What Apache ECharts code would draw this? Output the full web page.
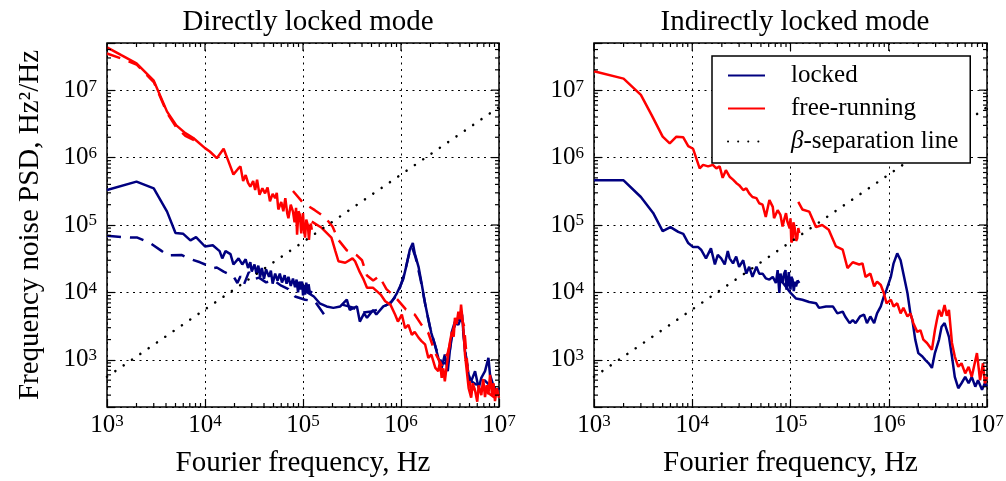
<!DOCTYPE html>
<html>
<head>
<meta charset="utf-8">
<script src="https://cdn.jsdelivr.net/npm/echarts@6/dist/echarts.min.js"></script>
<style>
html, body { margin: 0; padding: 0; background: #fff; }
#main { width: 1006px; height: 481px; }
</style>
</head>
<body>
<div id="main"></div>
<script>
// ---- data: [frequency Hz, PSD Hz^2/Hz] ----

// left panel: directly locked mode
var dirLockedA = [
  [1000, 3.3e5], [2000, 4.4e5], [3000, 3.5e5], [4100, 1.58e5], [5000, 7.6e4], [6000, 7.4e4],
  [7100, 5.9e4], [8100, 6.6e4], [1e4, 4.8e4], [1.2e4, 5.0e4], [1.41e4, 4.1e4], [1.5e4, 3.2e4],
  [1.62e4, 4.1e4], [1.82e4, 3.7e4], [1.95e4, 2.6e4], [2.2e4, 3.2e4], [2.4e4, 2.6e4], [2.6e4, 3.1e4],
  [2.75e4, 2.3e4], [2.9e4, 2.8e4], [3.0e4, 2.04e4], [3.2e4, 2.6e4], [3.35e4, 1.9e4], [3.5e4, 2.5e4],
  [3.65e4, 1.7e4], [3.8e4, 2.3e4], [4.0e4, 1.6e4], [4.2e4, 2.2e4], [4.5e4, 1.7e4], [4.7e4, 2.1e4],
  [4.9e4, 1.35e4], [5.2e4, 1.9e4], [5.5e4, 1.5e4], [5.8e4, 1.9e4], [6.1e4, 1.4e4], [6.5e4, 1.8e4],
  [6.8e4, 1.35e4], [7.1e4, 1.7e4], [7.5e4, 1.25e4], [7.9e4, 1.6e4], [8.3e4, 1.2e4], [8.6e4, 1.55e4],
  [8.9e4, 1.0e4], [9.2e4, 1.45e4], [9.5e4, 1.1e4], [9.8e4, 1.45e4], [1.0e5, 9.0e3], [1.03e5, 1.3e4],
  [1.05e5, 9.3e3], [1.08e5, 1.4e4], [1.11e5, 1.0e4], [1.14e5, 1.32e4], [1.18e5, 9.5e3], [1.23e5, 1.05e4]
];
var dirLockedB = [
  [1.0e5, 1.1e4], [1.29e5, 8.7e3], [1.48e5, 6.9e3], [1.74e5, 6.2e3], [2.04e5, 5.9e3], [2.4e5, 6.2e3],
  [2.8e5, 7.8e3], [3.0e5, 5.5e3], [3.55e5, 6.2e3], [3.8e5, 3.7e3], [4.2e5, 4.9e3], [4.5e5, 4.2e3],
  [5.2e5, 5.5e3], [5.6e5, 4.7e3], [6.6e5, 6.2e3], [7.8e5, 6.9e3], [8.3e5, 7.8e3], [9.1e5, 9.8e3],
  [9.8e5, 1.23e4], [1.05e6, 1.55e4], [1.15e6, 2.7e4], [1.23e6, 4.3e4], [1.32e6, 5.4e4], [1.38e6, 3.8e4],
  [1.51e6, 2.4e4], [1.62e6, 1.38e4], [1.76e6, 6.9e3], [1.9e6, 4.0e3], [2.04e6, 2.5e3], [2.24e6, 1.58e3],
  [2.4e6, 1.07e3], [2.6e6, 760], [2.8e6, 1.2e3], [3.0e6, 680], [3.3e6, 2.6e3], [3.55e6, 3.7e3],
  [3.85e6, 3.3e3], [4.2e6, 4.7e3], [4.3e6, 2.95e3], [4.5e6, 1.35e3], [4.9e6, 600], [5.2e6, 480],
  [5.7e6, 680], [6.2e6, 380], [6.6e6, 540], [7.2e6, 680], [7.8e6, 1.07e3], [8.1e6, 600],
  [8.7e6, 430], [9.3e6, 350], [1e7, 380]
];
var dirLockedDashA = [
  [1000, 6.9e4], [1410, 6.6e4], [2040, 6.5e4], [2750, 5.4e4], [3630, 4.1e4], [4100, 3.55e4],
  [5750, 3.6e4], [6800, 3.2e4], [8900, 2.8e4], [1.23e4, 2.3e4], [1.32e4, 2.34e4], [1.55e4, 2.04e4],
  [1.95e4, 1.74e4], [2.14e4, 1.38e4], [2.3e4, 1.74e4], [2.5e4, 1.32e4], [2.8e4, 2.0e4], [3.2e4, 1.58e4],
  [3.55e4, 1.66e4], [4.2e4, 1.41e4], [5.0e4, 1.51e4], [6.0e4, 1.26e4], [7.1e4, 1.12e4], [8.3e4, 8.7e3],
  [1.05e5, 7.8e3], [1.32e5, 7.4e3], [1.68e5, 4.5e3]
];
var dirLockedDashB = [
  [2.5e5, 6.6e3], [3.2e5, 6.0e3], [4.0e5, 5.0e3], [5.0e5, 5.2e3], [6.3e5, 5.8e3], [7.9e5, 7.2e3],
  [9.3e5, 9.5e3], [1.07e6, 1.78e4], [1.2e6, 3.55e4], [1.29e6, 4.8e4], [1.41e6, 3.3e4], [1.58e6, 1.58e4],
  [1.78e6, 6.3e3], [2.0e6, 2.8e3], [2.3e6, 1.41e3], [2.6e6, 890], [3.0e6, 890], [3.4e6, 2.8e3],
  [3.8e6, 4.0e3], [4.2e6, 3.8e3], [4.6e6, 1.12e3], [5.0e6, 500], [6.0e6, 420], [7.1e6, 500],
  [8.3e6, 400], [1e7, 355]
];
var dirFreeA = [
  [1000, 4.3e7], [1400, 3.3e7], [2000, 2.5e7], [3000, 1.38e7], [4100, 4.8e6], [5100, 3.0e6],
  [6300, 2.3e6], [7600, 1.95e6], [1e4, 1.38e6], [1.12e4, 1.23e6], [1.32e4, 9.8e5], [1.55e4, 1.35e6],
  [1.74e4, 8.7e5], [1.95e4, 5.6e5], [2.19e4, 6.9e5], [2.3e4, 7.4e5], [2.45e4, 4.5e5], [2.6e4, 5.5e5],
  [2.75e4, 4.2e5], [2.9e4, 3.7e5], [3.1e4, 4.5e5], [3.25e4, 3.3e5], [3.4e4, 4.7e5], [3.6e4, 2.8e5],
  [3.85e4, 3.5e5], [4.1e4, 2.95e5], [4.35e4, 3.6e5], [4.6e4, 2.24e5], [4.9e4, 2.9e5], [5.2e4, 2.5e5],
  [5.4e4, 3.0e5], [5.6e4, 1.7e5], [6.0e4, 2.2e5], [6.3e4, 1.6e5], [6.6e4, 2.5e5], [6.9e4, 1.5e5],
  [7.1e4, 1.26e5], [7.5e4, 2.0e5], [7.9e4, 1.58e5], [8.2e4, 1.1e5], [8.5e4, 1.8e5], [8.7e4, 7.2e4],
  [9.0e4, 1.6e5], [9.3e4, 1.41e5], [9.6e4, 7.5e4], [1.0e5, 1.5e5], [1.02e5, 8.9e4], [1.05e5, 6.5e4],
  [1.08e5, 1.2e5], [1.12e5, 1.0e5], [1.15e5, 6.0e4], [1.17e5, 8.1e4], [1.2e5, 1.05e5], [1.23e5, 8.5e4]
];
var dirFreeB = [
  [1.23e5, 1.12e5], [1.55e5, 9.1e4], [1.95e5, 6.5e4], [2.14e5, 4.1e4], [2.3e5, 2.9e4], [2.7e5, 2.75e4],
  [3.2e5, 3.2e4], [3.4e5, 2.9e4], [3.8e5, 2.0e4], [4.1e5, 1.62e4], [4.5e5, 1.17e4], [5.2e5, 1.17e4],
  [5.4e5, 1.23e4], [6.2e5, 9.3e3], [6.9e5, 7.4e3], [7.8e5, 6.6e3], [8.7e5, 4.7e3], [9.3e5, 3.7e3],
  [1.02e6, 4.7e3], [1.1e6, 2.95e3], [1.19e6, 3.3e3], [1.29e6, 2.34e3], [1.38e6, 2.6e3], [1.51e6, 2.14e3],
  [1.62e6, 1.9e3], [1.76e6, 1.7e3], [1.9e6, 1.07e3], [2.04e6, 1.2e3], [2.24e6, 760], [2.4e6, 680],
  [2.5e6, 950], [2.6e6, 540], [2.7e6, 750], [2.8e6, 480], [3.0e6, 1.07e3], [3.15e6, 1.8e3],
  [3.3e6, 2.6e3], [3.45e6, 2.2e3], [3.55e6, 4.2e3], [3.7e6, 3.4e3], [3.85e6, 5.2e3], [4.0e6, 4.0e3],
  [4.1e6, 6.6e3], [4.3e6, 3.3e3], [4.5e6, 1.2e3], [4.9e6, 380], [5.2e6, 275], [5.4e6, 450],
  [5.7e6, 350], [6.0e6, 240], [6.2e6, 420], [6.6e6, 300], [6.9e6, 520], [7.2e6, 280],
  [7.5e6, 420], [7.8e6, 310], [8.1e6, 600], [8.5e6, 300], [8.8e6, 450], [9.1e6, 245],
  [9.5e6, 380], [1e7, 275]
];
var dirFreeDashA = [
  [1000, 3.5e7], [1400, 2.95e7], [2000, 2.4e7], [3000, 1.32e7], [4100, 4.6e6], [5100, 2.8e6],
  [6300, 2.1e6], [7900, 1.78e6]
];
var dirFreeDashB = [
  [7.9e4, 3.2e5], [1.0e5, 2.14e5], [1.32e5, 1.66e5], [1.66e5, 1.32e5], [2.0e5, 9.5e4], [2.3e5, 6.0e4],
  [2.8e5, 4.2e4], [3.55e5, 3.55e4], [4.0e5, 3.0e4], [4.5e5, 1.78e4], [5.2e5, 1.5e4], [6.0e5, 1.74e4],
  [7.1e5, 1.12e4], [8.9e5, 8.3e3], [1.12e6, 5.6e3], [1.38e6, 4.7e3], [1.62e6, 3.3e3], [1.9e6, 2.5e3],
  [2.24e6, 1.26e3], [2.6e6, 830], [3.0e6, 1.26e3], [3.55e6, 3.55e3], [4.0e6, 5.0e3], [4.4e6, 3.16e3],
  [4.8e6, 710], [5.2e6, 355], [6.3e6, 400], [7.6e6, 330], [8.9e6, 280], [1e7, 316]
];

// right panel: indirectly locked mode
var indLockedA = [
  [1000, 4.6e5], [2000, 4.6e5], [3000, 2.6e5], [4000, 1.51e5], [5000, 8.1e4], [6000, 9.3e4],
  [7200, 7.9e4], [8100, 7.4e4], [9100, 5.4e4], [1.02e4, 4.7e4], [1.15e4, 4.7e4], [1.23e4, 4.3e4],
  [1.38e4, 3.2e4], [1.55e4, 4.5e4], [1.7e4, 2.6e4], [1.82e4, 3.6e4], [1.97e4, 3.2e4], [2.14e4, 2.6e4],
  [2.3e4, 4.1e4], [2.4e4, 3.2e4], [2.6e4, 2.7e4], [2.8e4, 3.4e4], [3.0e4, 2.4e4], [3.3e4, 3.0e4],
  [3.55e4, 1.9e4], [3.8e4, 2.4e4], [4.1e4, 1.7e4], [4.5e4, 2.4e4], [4.8e4, 1.9e4], [5.2e4, 1.9e4],
  [5.6e4, 1.62e4], [6.1e4, 1.55e4], [6.6e4, 1.7e4], [7.1e4, 1.38e4], [7.4e4, 2.14e4], [7.7e4, 9.8e3],
  [7.9e4, 1.9e4], [8.3e4, 1.38e4], [8.6e4, 1.9e4], [8.9e4, 2.14e4], [9.1e4, 1.1e4], [9.3e4, 1.23e4],
  [9.6e4, 2.0e4], [9.8e4, 1.9e4], [1.0e5, 1.1e4], [1.02e5, 1.7e4], [1.05e5, 1.55e4], [1.08e5, 1.05e4],
  [1.11e5, 1.45e4], [1.14e5, 1.23e4], [1.18e5, 1.5e4], [1.23e5, 1.38e4]
];
var indLockedB = [
  [7.9e4, 1.55e4], [9.8e4, 1.02e4], [1.14e5, 8.1e3], [1.32e5, 7.8e3], [1.55e5, 7.2e3], [1.82e5, 6.9e3],
  [1.95e5, 5.9e3], [2.3e5, 6.2e3], [2.7e5, 6.2e3], [3.0e5, 4.9e3], [3.4e5, 5.2e3], [3.6e5, 4.4e3],
  [4.0e5, 3.5e3], [4.3e5, 3.9e3], [4.6e5, 3.5e3], [5.1e5, 4.4e3], [5.6e5, 4.7e3], [6.0e5, 3.5e3],
  [6.5e5, 4.4e3], [7.1e5, 3.5e3], [7.6e5, 4.9e3], [8.3e5, 6.2e3], [8.9e5, 8.7e3], [9.5e5, 1.1e4],
  [1.05e6, 1.7e4], [1.12e6, 2.7e4], [1.22e6, 3.8e4], [1.32e6, 3.0e4], [1.41e6, 1.9e4], [1.55e6, 9.8e3],
  [1.66e6, 4.9e3], [1.74e6, 3.9e3], [1.86e6, 2.0e3], [2.0e6, 1.26e3], [2.2e6, 1.12e3], [2.35e6, 1.0e3],
  [2.55e6, 890], [2.75e6, 760], [2.95e6, 1.26e3], [3.25e6, 2.0e3], [3.45e6, 3.1e3], [3.7e6, 3.5e3],
  [4.1e6, 2.2e3], [4.4e6, 1.12e3], [4.7e6, 560], [5.1e6, 380], [5.5e6, 450], [6.0e6, 560],
  [6.5e6, 450], [7.0e6, 560], [7.6e6, 400], [8.1e6, 500], [8.9e6, 360], [9.5e6, 450], [1e7, 400]
];
var indFreeA = [
  [1000, 1.9e7], [2000, 1.48e7], [3000, 8.5e6], [3850, 4.3e6], [5000, 2.04e6], [5900, 1.62e6],
  [6900, 2.04e6], [8100, 2.0e6], [9100, 1.48e6], [1.02e4, 1.35e6], [1.19e4, 6.9e5], [1.29e4, 7.8e5],
  [1.45e4, 7.4e5], [1.62e4, 7.8e5], [1.76e4, 6.9e5], [1.9e4, 7.4e5], [2.04e4, 5.0e5], [2.2e4, 6.5e5],
  [2.4e4, 5.2e5], [2.6e4, 4.7e5], [2.8e4, 4.2e5], [3.0e4, 3.9e5], [3.3e4, 3.3e5], [3.55e4, 3.5e5],
  [3.8e4, 2.95e5], [4.1e4, 2.6e5], [4.5e4, 2.5e5], [4.8e4, 2.1e5], [5.2e4, 2.0e5], [5.6e4, 1.32e5],
  [6.1e4, 2.34e5], [6.6e4, 1.86e5], [6.8e4, 1.26e5], [7.4e4, 1.66e5], [7.9e4, 1.41e5], [8.3e4, 9.5e4],
  [8.7e4, 1.26e5], [9.0e4, 1.5e5], [9.3e4, 1.12e5], [9.8e4, 8.9e4], [1.0e5, 1.26e5], [1.02e5, 5.5e4],
  [1.05e5, 6.0e4], [1.07e5, 1.1e5], [1.1e5, 9.3e4], [1.14e5, 5.8e4], [1.17e5, 6.3e4], [1.2e5, 9.0e4],
  [1.23e5, 7.6e4]
];
var indFreeB = [
  [1.2e5, 2.2e5], [1.32e5, 1.7e5], [1.55e5, 1.58e5], [1.82e5, 9.3e4], [2.1e5, 1.0e5], [2.45e5, 8.5e4],
  [2.9e5, 4.8e4], [3.4e5, 4.3e4], [3.8e5, 2.3e4], [4.3e5, 2.8e4], [5.0e5, 2.6e4], [5.4e5, 2.7e4],
  [5.8e5, 1.7e4], [6.5e5, 1.9e4], [7.1e5, 1.23e4], [7.6e5, 1.45e4], [8.3e5, 1.29e4], [8.9e5, 9.8e3],
  [9.5e5, 6.9e3], [1.05e6, 7.8e3], [1.12e6, 6.2e3], [1.22e6, 6.9e3], [1.32e6, 4.9e3], [1.41e6, 5.9e3],
  [1.55e6, 4.4e3], [1.66e6, 4.9e3], [1.78e6, 3.5e3], [1.95e6, 2.6e3], [2.1e6, 2.75e3], [2.25e6, 2.0e3],
  [2.45e6, 1.78e3], [2.75e6, 1.41e3], [2.95e6, 2.75e3], [3.1e6, 4.0e3], [3.25e6, 5.5e3], [3.45e6, 4.4e3],
  [3.7e6, 6.5e3], [3.9e6, 4.5e3], [4.1e6, 5.5e3], [4.4e6, 1.78e3], [4.7e6, 1.12e3], [5.1e6, 790],
  [5.5e6, 890], [6.0e6, 630], [6.5e6, 790], [7.0e6, 560], [7.9e6, 1.26e3], [8.5e6, 500],
  [9.1e6, 890], [9.5e6, 450], [1e7, 560]
];

// beta-separation line end points
var betaLine = [[1e3, 560], [1e7, 5.6e6]];

// axis ranges and tick positions
var xRange = [1e3, 1e7];
var yRange = [200, 5e7];
var xMajor = [1e3, 1e4, 1e5, 1e6, 1e7];
var yMajor = [1e3, 1e4, 1e5, 1e6, 1e7];
var xMinor = [];
var yMinor = [];
[1e3, 1e4, 1e5, 1e6].forEach(function (d) {
  for (var m = 2; m <= 9; m++) xMinor.push(m * d);
});
[100, 1e3, 1e4, 1e5, 1e6, 1e7].forEach(function (d) {
  for (var m = 2; m <= 9; m++) {
    var v = m * d;
    if (v > yRange[0] && v < yRange[1]) yMinor.push(v);
  }
});

var FONT = 'Liberation Serif';
var NAVY = '#000080';
var RED = '#ff0000';
var grids = [
  { left: 107, top: 43, width: 392, height: 364 },
  { left: 594, top: 43, width: 393, height: 364 }
];

function tickLabel(v) {
  var e = Math.log10(v);
  var r = Math.round(e);
  if (Math.abs(e - r) > 1e-6) return '';
  return '{b|10}{s|' + r + '}';
}
var tickRich = {
  b: { fontFamily: FONT, fontSize: 25, color: '#000' },
  s: { fontFamily: FONT, fontSize: 17, color: '#000', verticalAlign: 'top' }
};

function xAxis(gi) {
  return {
    type: 'log', gridIndex: gi, min: xRange[0], max: xRange[1],
    name: 'Fourier frequency, Hz', nameLocation: 'middle', nameGap: 42,
    nameTextStyle: { fontFamily: FONT, fontSize: 29, color: '#000' },
    axisLine: { show: false },
    axisTick: { show: true, inside: true, length: 8, lineStyle: { color: '#000', width: 1.2 } },
    axisLabel: { margin: 6, formatter: tickLabel, rich: tickRich },
    splitLine: { show: true, lineStyle: { color: '#000', width: 1, type: [2, 4.5] } },
    minorTick: { show: false }
  };
}
function yAxis(gi) {
  var a = {
    type: 'log', gridIndex: gi, min: yRange[0], max: yRange[1],
    axisLine: { show: false },
    axisTick: { show: true, inside: true, length: 8, lineStyle: { color: '#000', width: 1.2 } },
    axisLabel: { margin: 10, formatter: tickLabel, rich: tickRich },
    splitLine: { show: true, lineStyle: { color: '#000', width: 1, type: [2, 4.5] } }
  };
  if (gi === 0) {
    a.name = 'Frequency noise PSD, Hz²/Hz';
    a.nameLocation = 'middle';
    a.nameGap = 62;
    a.nameTextStyle = { fontFamily: FONT, fontSize: 29, color: '#000' };
  }
  return a;
}

function line(name, data, gi, color, dashed, z) {
  return {
    name: name, type: 'line', xAxisIndex: gi, yAxisIndex: gi, data: data,
    symbol: 'none', showSymbol: false, silent: true, z: z,
    itemStyle: { color: color },
    lineStyle: { color: color, width: 2.5, type: dashed ? [14, 9] : 'solid' }
  };
}
function beta(gi) {
  return {
    name: 'β-separation line', type: 'line', xAxisIndex: gi, yAxisIndex: gi, data: betaLine,
    symbol: 'none', showSymbol: false, silent: true, z: 4,
    itemStyle: { color: '#000' },
    lineStyle: { color: '#000', width: 2.5, type: [0.1, 10], cap: 'round' }
  };
}

// tick marks on the top/right edges and all minor ticks (log-spaced)
function tickData() {
  var d = [];
  xMinor.forEach(function (v) { d.push([v, 1000, 0, 4]); });
  xMajor.forEach(function (v) { d.push([v, 1000, 2, 8]); });
  yMinor.forEach(function (v) { d.push([1000, v, 1, 4]); });
  yMajor.forEach(function (v) { d.push([1000, v, 3, 8]); });
  return d;
}
function ticks(gi) {
  return {
    type: 'custom', xAxisIndex: gi, yAxisIndex: gi, silent: true, z: 5,
    data: tickData(),
    renderItem: function (params, api) {
      var cs = params.coordSys;
      var kind = api.value(2), len = api.value(3);
      var p = api.coord([api.value(0), api.value(1)]);
      var st = { stroke: '#000', lineWidth: 1.2 };
      var kids = [];
      if (kind === 0 || kind === 2) {
        if (kind === 0) kids.push({ type: 'line', shape: { x1: p[0], y1: cs.y + cs.height, x2: p[0], y2: cs.y + cs.height - len }, style: st });
        kids.push({ type: 'line', shape: { x1: p[0], y1: cs.y, x2: p[0], y2: cs.y + len }, style: st });
      } else {
        if (kind === 1) kids.push({ type: 'line', shape: { x1: cs.x, y1: p[1], x2: cs.x + len, y2: p[1] }, style: st });
        kids.push({ type: 'line', shape: { x1: cs.x + cs.width, y1: p[1], x2: cs.x + cs.width - len, y2: p[1] }, style: st });
      }
      return { type: 'group', children: kids };
    }
  };
}

var chart = echarts.init(document.getElementById('main'));
chart.setOption({
  animation: false,
  backgroundColor: '#fff',
  title: [
    { text: 'Directly locked mode', left: 303, top: 3, textAlign: 'center',
      textStyle: { fontFamily: FONT, fontSize: 29, fontWeight: 'normal', color: '#000' } },
    { text: 'Indirectly locked mode', left: 790, top: 3, textAlign: 'center',
      textStyle: { fontFamily: FONT, fontSize: 29, fontWeight: 'normal', color: '#000' } }
  ],
  legend: {
    data: ['locked', 'free-running', 'β-separation line'],
    orient: 'vertical', left: 712, top: 56,
    itemWidth: 37, itemHeight: 25, itemGap: 8,
    padding: [7, 12, 9, 15],
    backgroundColor: '#fff', borderColor: '#000', borderWidth: 1.5, borderRadius: 0,
    selectedMode: false, z: 10,
    itemStyle: { color: 'transparent', borderColor: 'transparent', borderWidth: 0, opacity: 0 },
    formatter: function (n) { return n === 'β-separation line' ? '{i|β}-separation line' : n; },
    textStyle: {
      fontFamily: FONT, fontSize: 25, color: '#000', padding: [0, 0, 0, 21],
      rich: { i: { fontFamily: FONT, fontSize: 25, fontStyle: 'italic', color: '#000' } }
    }
  },
  grid: grids.map(function (g) {
    return Object.assign({ show: true, borderColor: '#000', borderWidth: 1.5,
      backgroundColor: 'transparent', containLabel: false, outerBoundsMode: 'none' }, g);
  }),
  xAxis: [xAxis(0), xAxis(1)],
  yAxis: [yAxis(0), yAxis(1)],
  series: [
    line('locked', dirLockedA, 0, NAVY, false, 2),
    line('locked', dirLockedB, 0, NAVY, false, 2),
    line('locked', dirLockedDashA, 0, NAVY, true, 2),
    line('locked', dirLockedDashB, 0, NAVY, true, 2),
    line('free-running', dirFreeA, 0, RED, false, 3),
    line('free-running', dirFreeB, 0, RED, false, 3),
    line('free-running', dirFreeDashA, 0, RED, true, 3),
    line('free-running', dirFreeDashB, 0, RED, true, 3),
    beta(0),
    line('locked', indLockedA, 1, NAVY, false, 2),
    line('locked', indLockedB, 1, NAVY, false, 2),
    line('free-running', indFreeA, 1, RED, false, 3),
    line('free-running', indFreeB, 1, RED, false, 3),
    beta(1),
    ticks(0),
    ticks(1)
  ]
});
</script>
</body>
</html>
